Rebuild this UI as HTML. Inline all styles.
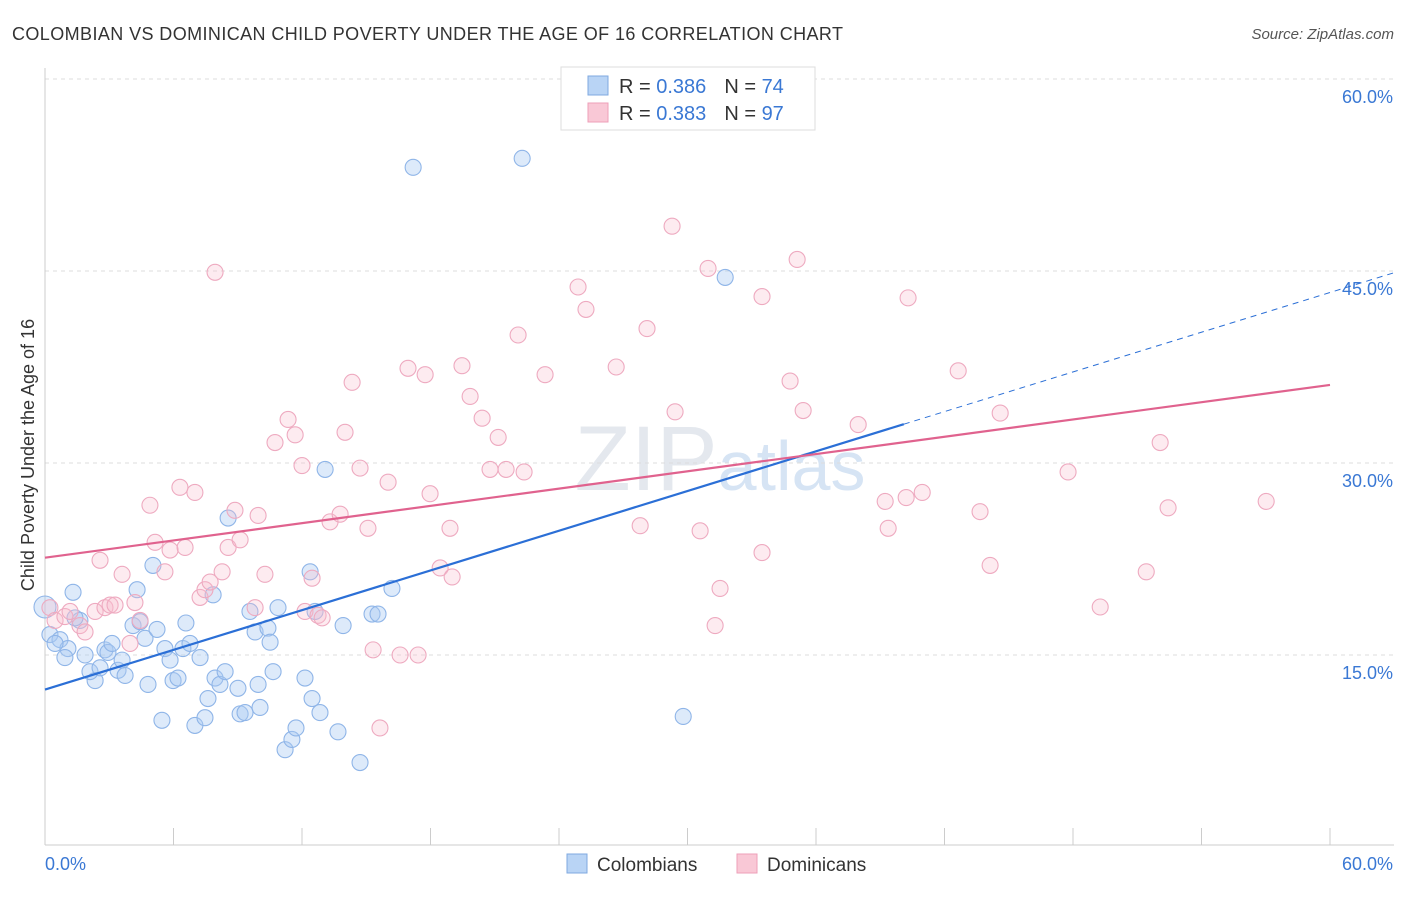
<!DOCTYPE html>
<html><head><meta charset="utf-8"><style>
body{margin:0;background:#fff;font-family:"Liberation Sans",sans-serif;}
svg text{font-family:"Liberation Sans",sans-serif;}
</style></head><body>
<svg id="chart" width="1406" height="892">
<text x="12" y="40" font-size="18" fill="#333" textLength="831" lengthAdjust="spacing">COLOMBIAN VS DOMINICAN CHILD POVERTY UNDER THE AGE OF 16 CORRELATION CHART</text>
<text x="1394" y="39" font-size="15" fill="#555" font-style="italic" text-anchor="end">Source: ZipAtlas.com</text>
<text x="720" y="490" font-size="92" fill="#e4e8ee" text-anchor="middle" font-family="Liberation Serif">ZIP<tspan fill="#d6e4f4" font-family="Liberation Sans" font-size="70">atlas</tspan></text>
<text transform="translate(34,455) rotate(-90)" font-size="18" fill="#333" text-anchor="middle">Child Poverty Under the Age of 16</text>
<g id="grid"></g><g id="ticks"></g><g id="pts"></g><g id="lines"></g>
<g>
<rect x="561" y="67" width="254" height="63" fill="#fff" stroke="#ddd"/>
<rect x="588" y="76" width="20" height="19" fill="#b9d4f5" stroke="#7fa9e0"/>
<rect x="588" y="103" width="20" height="19" fill="#f9c8d6" stroke="#ee9fb8"/>
<text x="619" y="93" font-size="20" fill="#333">R = <tspan fill="#3a78d4">0.386</tspan><tspan dx="18">N = </tspan><tspan fill="#3a78d4">74</tspan></text>
<text x="619" y="120" font-size="20" fill="#333">R = <tspan fill="#3a78d4">0.383</tspan><tspan dx="18">N = </tspan><tspan fill="#3a78d4">97</tspan></text>
</g>
<g>
<rect x="567" y="854" width="20" height="19" fill="#b9d4f5" stroke="#7fa9e0"/>
<text x="597" y="871" font-size="19" fill="#333">Colombians</text>
<rect x="737" y="854" width="20" height="19" fill="#f9c8d6" stroke="#ee9fb8"/>
<text x="767" y="871" font-size="19" fill="#333">Dominicans</text>
</g>
</svg>
<script>
const blueX=[0,0.23,0.7,1.31,1.07,0.93,1.63,1.87,2.34,2.1,2.57,2.8,2.94,3.13,3.41,3.6,3.74,4.11,4.3,4.44,4.67,4.81,5.04,5.23,5.46,5.6,5.84,5.98,6.21,6.44,6.58,6.77,7.0,7.24,7.47,7.61,7.85,7.94,8.17,8.41,8.55,9.01,9.11,9.34,9.57,9.81,9.95,10.04,10.41,10.51,10.65,10.88,11.21,11.53,11.72,12.14,12.38,12.47,12.61,12.84,13.08,13.68,13.92,14.71,15.27,15.55,16.2,17.19,22.28,29.8,31.76,0.47,1.4];
const blueY=[18.75,16.6,16.2,19.9,15.5,14.8,17.7,15.0,13.0,13.7,14.0,15.4,15.2,15.9,13.8,14.6,13.4,17.3,20.1,17.6,16.3,12.7,22.0,17.0,9.9,15.5,14.6,13.0,13.2,15.5,17.5,15.9,9.5,14.8,10.1,11.6,19.7,13.2,12.7,13.7,25.7,12.4,10.4,10.5,18.4,16.8,12.7,10.9,17.1,16.0,13.7,18.7,7.6,8.4,9.3,13.2,21.5,11.6,18.4,10.5,29.5,9.0,17.3,6.6,18.2,18.2,20.2,53.1,53.8,10.2,44.5,15.9,17.9];
const pinkX=[0.23,0.47,0.93,1.17,1.63,1.87,2.34,2.57,2.8,3.04,3.27,3.6,3.97,4.2,4.44,4.9,5.14,5.6,5.84,6.3,6.54,7.0,7.24,7.47,7.71,7.94,8.27,8.55,8.87,9.11,9.81,9.95,10.27,10.74,11.35,11.68,12.0,12.14,12.47,12.75,12.94,13.31,13.78,14.01,14.34,14.71,15.08,15.32,15.64,16.02,16.58,16.95,17.42,17.75,17.98,18.45,18.91,19.01,19.47,19.85,20.41,20.78,21.16,21.53,22.09,22.37,23.35,24.89,25.26,26.67,27.79,28.11,29.28,29.42,30.59,30.96,31.29,31.52,33.48,33.48,34.79,35.12,35.4,37.97,39.23,39.37,40.21,40.3,40.96,42.64,43.66,44.13,44.6,47.77,49.27,51.42,52.07,52.44,57.02];
const pinkY=[18.7,17.7,18.0,18.4,17.3,16.8,18.4,22.4,18.7,18.9,18.9,21.3,15.9,19.1,17.7,26.7,23.8,21.5,23.2,28.1,23.4,27.7,19.5,20.1,20.7,44.9,21.5,23.4,26.3,24.0,18.7,25.9,21.3,31.6,33.4,32.2,29.8,18.4,21.0,18.1,17.9,25.4,26.0,32.4,36.3,29.6,24.9,15.4,9.3,28.5,15.0,37.4,15.0,36.9,27.6,21.8,24.9,21.1,37.6,35.2,33.5,29.5,32.0,29.5,40.0,29.3,36.9,43.75,42.0,37.5,25.1,40.5,48.5,34.0,24.7,45.2,17.3,20.2,43.0,23.0,36.4,45.9,34.1,33.0,27.0,24.9,27.3,42.9,27.7,37.2,26.2,22.0,33.9,29.3,18.75,21.5,31.6,26.5,27.0];
const blueFit=[12.3,0.517];
const pinkFit=[22.6,0.225];
const yTicks=[15,30,45,60];
const xTickVals=[0,6,12,18,24,30,36,42,48,54,60];
const NS='http://www.w3.org/2000/svg';
const X=v=>45+v*1285/60, Y=v=>847-v*12.8;
function mk(tag,attrs,parent){const e=document.createElementNS(NS,tag);for(const k in attrs)e.setAttribute(k,attrs[k]);document.getElementById(parent).appendChild(e);return e;}
yTicks.forEach(t=>{
 const l=mk('line',{x1:45,x2:1394,y1:Y(t),y2:Y(t),stroke:'#ddd','stroke-dasharray':'4,4'},'grid');
 
 
 const tx=mk('text',{x:1393,y:Y(t)+24,'font-size':18,fill:'#3a78d4','text-anchor':'end'},'grid');
 tx.textContent=t.toFixed(1)+'%';
 
 
});
const ax=mk('line',{x1:45,x2:1394,y1:845,y2:845,stroke:'#ccc'},'ticks');


const ay=mk('line',{x1:45,x2:45,y1:68,y2:845,stroke:'#ccc'},'ticks');


xTickVals.forEach(t=>{
 const l=mk('line',{x1:X(t),x2:X(t),y1:828,y2:845,stroke:'#ccc'},'ticks');
 
 
});
[[0,'start',45],[60,'end',1393]].forEach(([v,a,x])=>{
 const tx=mk('text',{x:x,y:870,'font-size':18,fill:'#3a78d4','text-anchor':a},'ticks');
 tx.textContent=v.toFixed(1)+'%';
 
 
});
blueX.forEach((x,i)=>{
 const c=mk('circle',{cx:X(x),cy:Y(blueY[i]),r:i==0?11:8,fill:'rgba(170,202,242,0.4)',stroke:'#8fb5e8','stroke-width':1.1},'pts');
 
 
});
pinkX.forEach((x,i)=>{
 const c=mk('circle',{cx:X(x),cy:Y(pinkY[i]),r:8,fill:'rgba(248,188,206,0.3)',stroke:'#eeaac0','stroke-width':1.1},'pts');
 
 
});
const bl=mk('line',{x1:X(0),y1:Y(blueFit[0]),x2:X(40.1),y2:Y(blueFit[0]+blueFit[1]*40.1),stroke:'#2b6fd6','stroke-width':2.2},'lines');


const bd=mk('line',{x1:X(40.1),y1:Y(blueFit[0]+blueFit[1]*40.1),x2:X(63),y2:Y(blueFit[0]+blueFit[1]*63),stroke:'#2b6fd6','stroke-width':1,'stroke-dasharray':'6,5'},'lines');


const pl=mk('line',{x1:X(0),y1:Y(pinkFit[0]),x2:X(60),y2:Y(pinkFit[0]+pinkFit[1]*60),stroke:'#e0628e','stroke-width':2.2},'lines');


</script>
</body></html>
